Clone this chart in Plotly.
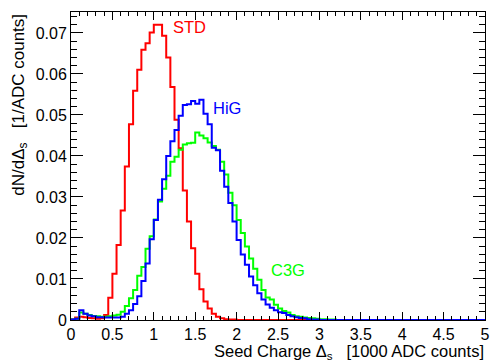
import numpy as np
import plotly.graph_objects as go

# Bin layout: 100 bins of width 0.05 (1000 ADC counts) from 0 to 5
bin_lo = 0.0
bin_width = 0.05
n_bins = 100

# dN/dDelta_s per bin (index i covers [0.05*i, 0.05*(i+1)])
std_vals = [
    0.0002, 0.0006, 0.0008, 0.0007, 0.0005, 0.0004, 0.0003, 0.0004, 0.0012, 0.0054,
    0.0113, 0.0183, 0.0267, 0.0374, 0.0477, 0.0559, 0.0610, 0.0659, 0.0675, 0.0701,
    0.0720, 0.0720, 0.0693, 0.0640, 0.0568, 0.0488, 0.0419, 0.0316, 0.0240, 0.0175,
    0.0113, 0.0075, 0.0045, 0.0028, 0.0015, 0.0008, 0.0004, 0.0002, 0.0001, 0.0001,
    0.0, 0.0, 0.0, 0.0, 0.0, 0.0, 0.0, 0.0, 0.0, 0.0,
    0.0, 0.0, 0.0, 0.0, 0.0, 0.0, 0.0, 0.0, 0.0, 0.0,
    0.0, 0.0, 0.0, 0.0, 0.0, 0.0, 0.0, 0.0, 0.0, 0.0,
    0.0, 0.0, 0.0, 0.0, 0.0, 0.0, 0.0, 0.0, 0.0, 0.0,
    0.0, 0.0, 0.0, 0.0, 0.0, 0.0, 0.0, 0.0, 0.0, 0.0,
    0.0, 0.0, 0.0, 0.0, 0.0, 0.0, 0.0, 0.0, 0.0, 0.0,
]

hig_vals = [
    0.0001, 0.0003, 0.0024, 0.0015, 0.0011, 0.0009, 0.0007, 0.0007, 0.0006, 0.0006,
    0.0006, 0.0006, 0.0008, 0.0015, 0.0024, 0.0039, 0.0058, 0.0095, 0.0138, 0.0197,
    0.0244, 0.0293, 0.0343, 0.0400, 0.0436, 0.0463, 0.0498, 0.0524, 0.0526, 0.0534,
    0.0527, 0.0537, 0.0503, 0.0477, 0.0420, 0.0414, 0.0364, 0.0325, 0.0285, 0.0240,
    0.0195, 0.0160, 0.0135, 0.0106, 0.0085, 0.0065, 0.0050, 0.0038, 0.0030, 0.0024,
    0.0019, 0.0017, 0.0012, 0.0009, 0.0007, 0.0005, 0.0004, 0.0002, 0.0001, 0.0001,
    0.0, 0.0, 0.0, 0.0, 0.0, 0.0, 0.0, 0.0, 0.0, 0.0,
    0.0, 0.0, 0.0, 0.0, 0.0, 0.0, 0.0, 0.0, 0.0, 0.0,
    0.0, 0.0, 0.0, 0.0, 0.0, 0.0, 0.0, 0.0, 0.0, 0.0,
    0.0, 0.0, 0.0, 0.0, 0.0, 0.0, 0.0, 0.0, 0.0, 0.0,
]

c3g_vals = [
    0.0001, 0.0003, 0.0018, 0.0015, 0.0012, 0.0010, 0.0009, 0.0008, 0.0008, 0.0009,
    0.0011, 0.0013, 0.0020, 0.0034, 0.0053, 0.0073, 0.0108, 0.0129, 0.0174, 0.0204,
    0.0245, 0.0289, 0.0320, 0.0352, 0.0386, 0.0398, 0.0415, 0.0428, 0.0431, 0.0432,
    0.0457, 0.0450, 0.0443, 0.0433, 0.0424, 0.0415, 0.0386, 0.0355, 0.0310, 0.0280,
    0.0244, 0.0212, 0.0179, 0.0150, 0.0125, 0.0098, 0.0073, 0.0055, 0.0050, 0.0037,
    0.0028, 0.0022, 0.0018, 0.0012, 0.0009, 0.0008, 0.0006, 0.0005, 0.0004, 0.0003,
    0.0002, 0.0002, 0.0001, 0.0001, 0.0, 0.0, 0.0, 0.0, 0.0, 0.0,
    0.0, 0.0, 0.0, 0.0, 0.0, 0.0, 0.0, 0.0, 0.0, 0.0,
    0.0, 0.0, 0.0, 0.0, 0.0, 0.0, 0.0, 0.0, 0.0, 0.0,
    0.0, 0.0, 0.0, 0.0, 0.0, 0.0, 0.0, 0.0, 0.0, 0.0,
]

series_names = ["STD", "C3G", "HiG"]
x_tick_vals = [0, 0.5, 1, 1.5, 2, 2.5, 3, 3.5, 4, 4.5, 5]
x_tick_text = ["0", "0.5", "1", "1.5", "2", "2.5", "3", "3.5", "4", "4.5", "5"]
y_tick_vals = [0, 0.01, 0.02, 0.03, 0.04, 0.05, 0.06, 0.07]
y_tick_text = ["0", "0.01", "0.02", "0.03", "0.04", "0.05", "0.06", "0.07"]

edges = bin_lo + bin_width * np.arange(n_bins + 1)

FONT = "Liberation Sans, Arial, Helvetica, sans-serif"
colors = {"STD": "#ff0000", "C3G": "#00ff00", "HiG": "#0000ff"}
data = {"STD": std_vals, "C3G": c3g_vals, "HiG": hig_vals}

fig = go.Figure()
for name in series_names:
    vals = data[name]
    yy = list(vals) + [vals[-1]]
    fig.add_trace(go.Scatter(
        x=edges, y=yy, mode="lines", line=dict(shape="hv", color=colors[name], width=2),
        name=name, showlegend=False, hoverinfo="skip",
    ))

# Series labels
label_pos = {"STD": (1.205, 0.0715), "HiG": (1.685, 0.0517), "C3G": (2.395, 0.0121)}
for name in series_names:
    lx, ly = label_pos[name]
    fig.add_annotation(x=lx, y=ly, xref="x", yref="y", text=name, showarrow=False,
                       xanchor="left", yanchor="middle",
                       font=dict(family=FONT, size=16.5, color=colors[name]))

# Axis titles
fig.add_annotation(x=1.002, y=-0.103, xref="paper", yref="paper",
                   text="Seed Charge \u0394<sub>s</sub>\u00a0\u00a0\u00a0[1000 ADC counts]",
                   showarrow=False, xanchor="right", yanchor="middle",
                   font=dict(family=FONT, size=16.5, color="black"))
fig.add_annotation(x=-0.124, y=1.0, xref="paper", yref="paper",
                   text="dN/d\u0394<sub>s</sub>\u00a0\u00a0\u00a0[1/ADC counts]",
                   showarrow=False, xanchor="center", yanchor="top", textangle=-90,
                   font=dict(family=FONT, size=17, color="black"))

axis_common = dict(showline=True, linecolor="black", linewidth=1, mirror="allticks",
                   ticks="inside", tickcolor="black", showgrid=False, zeroline=False,
                   tickfont=dict(family=FONT, size=16, color="black"))

fig.update_xaxes(range=[0, 5], tickmode="array", tickvals=x_tick_vals, ticktext=x_tick_text,
                 ticklen=8, ticklabeloverflow="allow",
                 minor=dict(dtick=0.1, ticklen=4, ticks="inside", tickcolor="black"),
                 **axis_common)
fig.update_yaxes(range=[0, 0.0751], tickmode="array", tickvals=y_tick_vals, ticktext=y_tick_text,
                 ticklen=12, ticklabeloverflow="allow",
                 minor=dict(dtick=0.002, ticklen=6, ticks="inside", tickcolor="black"),
                 **axis_common)

fig.update_layout(width=493, height=363, margin=dict(l=71, r=3, t=12, b=43),
                  paper_bgcolor="white", plot_bgcolor="white", showlegend=False)

fig.write_html("out.html")
